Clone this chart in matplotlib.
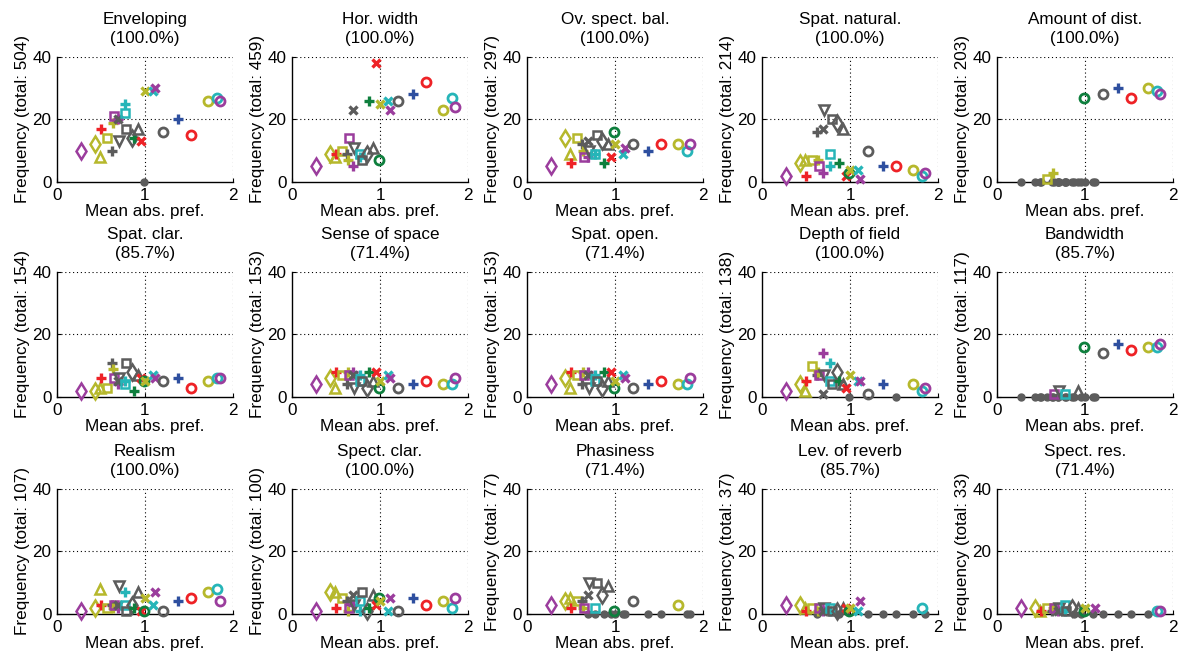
import matplotlib
matplotlib.use("Agg")
import matplotlib.pyplot as plt

plt.rcParams['font.family'] = ['Liberation Sans', 'DejaVu Sans']
plt.rcParams['font.size'] = 12.3

# one entry per rated item: mean abs. preference, colour, marker
item_x = [0.27, 0.43, 0.49, 0.50, 0.57, 0.63, 0.64, 0.65, 0.69, 0.69, 0.70, 0.77, 0.77, 0.79,
          0.85, 0.87, 0.92, 0.95, 0.99, 1.00, 1.09, 1.11, 1.20, 1.37, 1.52, 1.72, 1.815, 1.85]
item_col = ['p', 'y', 'y', 'r', 'y', 'g', 'y', 'p', 'p', 'g', 'g', 'c', 'c', 'g',
            'g', 'n', 'g', 'r', 'n', 'y', 'c', 'p', 'g', 'b', 'r', 'y', 'c', 'p']
item_mk = ['d', 'd', '^', '+', 's', '+', '+', 's', '+', 'x', 'v', '+', 's', 's',
           'd', '+', '^', 'x', 'o', 'x', 'x', 'x', 'o', '+', 'o', 'o', 'o', 'o']

titles = ['Enveloping', 'Hor. width', 'Ov. spect. bal.', 'Spat. natural.', 'Amount of dist.',
          'Spat. clar.', 'Sense of space', 'Spat. open.', 'Depth of field', 'Bandwidth',
          'Realism', 'Spect. clar.', 'Phasiness', 'Lev. of reverb', 'Spect. res.']
pct = [100.0, 100.0, 100.0, 100.0, 100.0, 85.7, 71.4, 71.4, 100.0, 85.7,
       100.0, 100.0, 71.4, 85.7, 71.4]
totals = [504, 459, 297, 214, 203, 154, 153, 153, 138, 117, 107, 100, 77, 37, 33]

enveloping = [10, 12, 8, 17, 14, 10, 19, 21, 20, 20, 13, 25, 22, 17, 14, 14, 17, 13, 0, 29, 29, 30, 16, 20, 15, 26, 27, 26]
hor_width = [5, 9, 8, 9, 10, 9, 7, 14, 5, 23, 11, 8, 9, 7, 9, 26, 11, 38, 7, 25, 26, 23, 26, 28, 32, 23, 27, 24]
ov_spect_bal = [5, 14, 9, 6, 14, 12, 10, 8, 8, 13, 10, 9, 9, 15, 13, 6, 12, 8, 16, 12, 9, 11, 12, 10, 12, 12, 10, 12]
spat_natural = [2, 6, 7, 2, 7, 16, 7, 5, 3, 17, 23, 5, 9, 20, 19, 6, 17, 2, 3, 4, 4, 1, 10, 5, 5, 4, 2, 3]
amount_dist = [0, 0, 0, 0, 1, 0, 3, 0, 0, 0, 0, 0, 0, 0, 0, 0, 0, 0, 27, 0, 0, 0, 28, 30, 27, 30, 29, 28]
spat_clar = [2, 2, 3, 6, 3, 11, 9, 6, 4, 5, 6, 5, 4, 11, 8, 2, 7, 6, 5, 5, 7, 6, 5, 6, 3, 5, 6, 6]
sense_space = [4, 6, 3, 8, 7, 4, 8, 7, 8, 7, 3, 7, 5, 5, 3, 8, 5, 8, 3, 5, 7, 6, 3, 4, 5, 4, 4, 6]
spat_open = [4, 6, 3, 8, 7, 4, 8, 7, 8, 7, 3, 7, 5, 5, 3, 8, 5, 8, 3, 5, 7, 6, 3, 4, 5, 4, 4, 6]
depth_field = [2, 4, 2, 5, 10, 7, 8, 7, 14, 1, 7, 11, 5, 4, 8, 5, 4, 3, 0, 7, 5, 5, 1, 4, 0, 4, 2, 3]
bandwidth = [0, 0, 0, 0, 0, 0, 0, 1, 0, 0, 2, 0, 1, 0, 0, 0, 2, 0, 16, 0, 0, 0, 14, 17, 15, 16, 16, 17]
realism = [1, 2, 8, 3, 2, 3, 2, 3, 2, 3, 9, 7, 3, 1, 3, 2, 7, 1, 1, 5, 3, 7, 1, 4, 5, 7, 8, 4]
spect_clar = [1, 7, 7, 2, 5, 4, 1, 2, 3, 6, 3, 1, 4, 7, 1, 2, 6, 3, 5, 4, 1, 5, 1, 5, 3, 4, 2, 5]
phasiness = [3, 4, 5, 2, 4, 4, 2, 2, 0, 6, 10, 0, 2, 10, 6, 0, 9, 0, 1, 0, 0, 0, 4, 0, 0, 3, 0, 0]
lev_reverb = [3, 3, 2, 1, 2, 0, 1, 2, 1, 1, 2, 1, 2, 1, 1, 0, 2, 2, 1, 2, 1, 4, 0, 0, 0, 0, 2, 0]
spect_res = [2, 2, 1, 1, 2, 1, 2, 2, 1, 1, 2, 1, 3, 1, 2, 0, 2, 0, 1, 2, 0, 2, 0, 0, 0, 0, 1, 1]

panels = [enveloping, hor_width, ov_spect_bal, spat_natural, amount_dist,
          spat_clar, sense_space, spat_open, depth_field, bandwidth,
          realism, spect_clar, phasiness, lev_reverb, spect_res]

colors = {'p': '#9b3d9d', 'y': '#b6b82c', 'r': '#ee2226', 'g': '#5c5c5c',
          'c': '#26b5b8', 'n': '#0e7f3d', 'b': '#2e4f9f'}
msize = {'o': 6.5, 's': 6, '^': 7, 'v': 7, 'd': 8, '+': 7, 'x': 5.5}
mew = {'o': 2.0, 's': 1.8, '^': 1.8, 'v': 1.8, 'd': 1.8, '+': 2.4, 'x': 2.4}

fig = plt.figure(figsize=(11.79, 6.58), dpi=100)

lefts = [0.0483, 0.2477, 0.447, 0.6463, 0.8456]
bottoms = [0.7234, 0.3967, 0.0669]
w, h = 0.1493, 0.19

for k, vals in enumerate(panels):
    ax = fig.add_axes([lefts[k % 5], bottoms[k // 5], w, h])
    # zero counts as small grey dots first
    for x, v in zip(item_x, vals):
        if v == 0:
            ax.plot(x, 0, 'o', color='#5c5c5c', ms=5, clip_on=False, zorder=3)
    for x, v, c, m in zip(item_x, vals, item_col, item_mk):
        if v > 0:
            ax.plot(x, v, m, mfc='none', mec=colors[c], ms=msize[m], mew=mew[m],
                    clip_on=False, zorder=4)
    ax.set_xlim(0, 2)
    ax.set_ylim(0, 40)
    ax.set_xticks([0, 1, 2])
    ax.set_yticks([0, 20, 40])
    for g in [1, 2]:
        ax.axvline(g, color='black', ls=(0, (1, 2.5)), lw=0.8, zorder=1)
    for g in [20, 40]:
        ax.axhline(g, color='black', ls=(0, (1, 2.5)), lw=0.8, zorder=1)
    ax.spines['top'].set_visible(False)
    ax.spines['right'].set_visible(False)
    ax.spines['left'].set_linewidth(1.0)
    ax.spines['bottom'].set_linewidth(1.0)
    ax.tick_params(direction='in', length=3, labelsize=12.3, pad=4)
    ax.set_title('%s\n(%.1f%%)' % (titles[k], pct[k]), fontsize=12.3, pad=10, linespacing=1.36)
    ax.set_xlabel('Mean abs. pref.', fontsize=12.3, labelpad=1)
    ax.set_ylabel('Frequency (total: %d)' % totals[k], fontsize=12.3, labelpad=2)

fig.savefig('out.png', dpi=100)
